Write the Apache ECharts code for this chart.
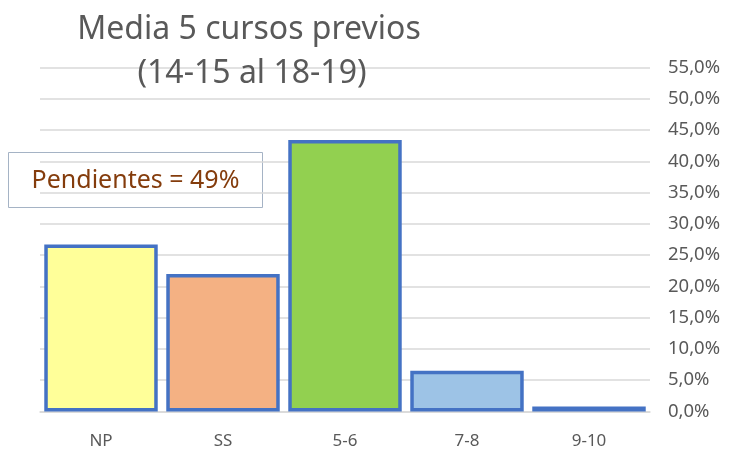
<!DOCTYPE html>
<html>
<head>
<meta charset="utf-8">
<script src="https://cdn.jsdelivr.net/npm/echarts@6/dist/echarts.min.js"></script>
<style>
  html, body { margin: 0; padding: 0; background: #fff; }
  #chart { width: 735px; height: 454px; }
</style>
</head>
<body>
<div id="chart"></div>
<script>
// data (percent)
const categories = ['NP', 'SS', '5-6', '7-8', '9-10']
const values = [26.7, 22.0, 43.4, 6.5, 0.8]
const barColors = ['#FFFF99', '#F4B183', '#92D050', '#9DC3E6', '#9DC3E6']
const titleLines = ['Media 5 cursos previos', '(14-15 al 18-19)']
const noteText = 'Pendientes = 49%'

const font = 'Noto Sans'
const chart = echarts.init(document.getElementById('chart'))

chart.setOption({
  animation: false,
  title: [
    {
      text: titleLines[0],
      left: 244,
      top: 9,
      textAlign: 'center',
      textStyle: { fontFamily: font, fontSize: 32, fontWeight: 'normal', color: '#595959' }
    },
    {
      text: titleLines[1],
      left: 247,
      top: 53,
      textAlign: 'center',
      textStyle: { fontFamily: font, fontSize: 32, fontWeight: 'normal', color: '#595959' }
    }
  ],
  grid: {
    left: 40,
    right: 85,
    top: 67.5,
    bottom: 42.5,
    containLabel: false
  },
  xAxis: {
    type: 'category',
    data: categories,
    axisLine: { lineStyle: { color: '#D9D9D9', width: 1.5 } },
    axisTick: { show: false },
    axisLabel: { fontFamily: font, fontSize: 17, color: '#595959', margin: 21 }
  },
  yAxis: {
    type: 'value',
    position: 'right',
    min: 0,
    max: 55,
    interval: 5,
    axisLine: { show: false },
    axisTick: { show: false },
    splitLine: { lineStyle: { color: '#D9D9D9', width: 1.5 } },
    axisLabel: {
      fontFamily: font,
      fontSize: 18.5,
      color: '#595959',
      margin: 18,
      formatter: (v) => v.toFixed(1).replace('.', ',') + '%'
    }
  },
  series: [
    {
      type: 'bar',
      barCategoryGap: '7%',
      data: values.map((v, i) => ({
        value: v,
        itemStyle: { color: barColors[i] }
      })),
      itemStyle: { borderColor: '#4472C4', borderWidth: 3.5 }
    }
  ],
  graphic: [
    {
      type: 'group',
      left: 8,
      top: 152,
      children: [
        {
          type: 'rect',
          shape: { x: 0, y: 0, width: 254, height: 55 },
          style: { fill: '#fff', stroke: '#A5B3C5', lineWidth: 1 }
        },
        {
          type: 'text',
          x: 127,
          y: 28,
          style: {
            text: noteText,
            fontFamily: font,
            fontSize: 25,
            fill: '#843C0C',
            align: 'center',
            verticalAlign: 'middle'
          }
        }
      ]
    }
  ]
})
</script>
</body>
</html>
